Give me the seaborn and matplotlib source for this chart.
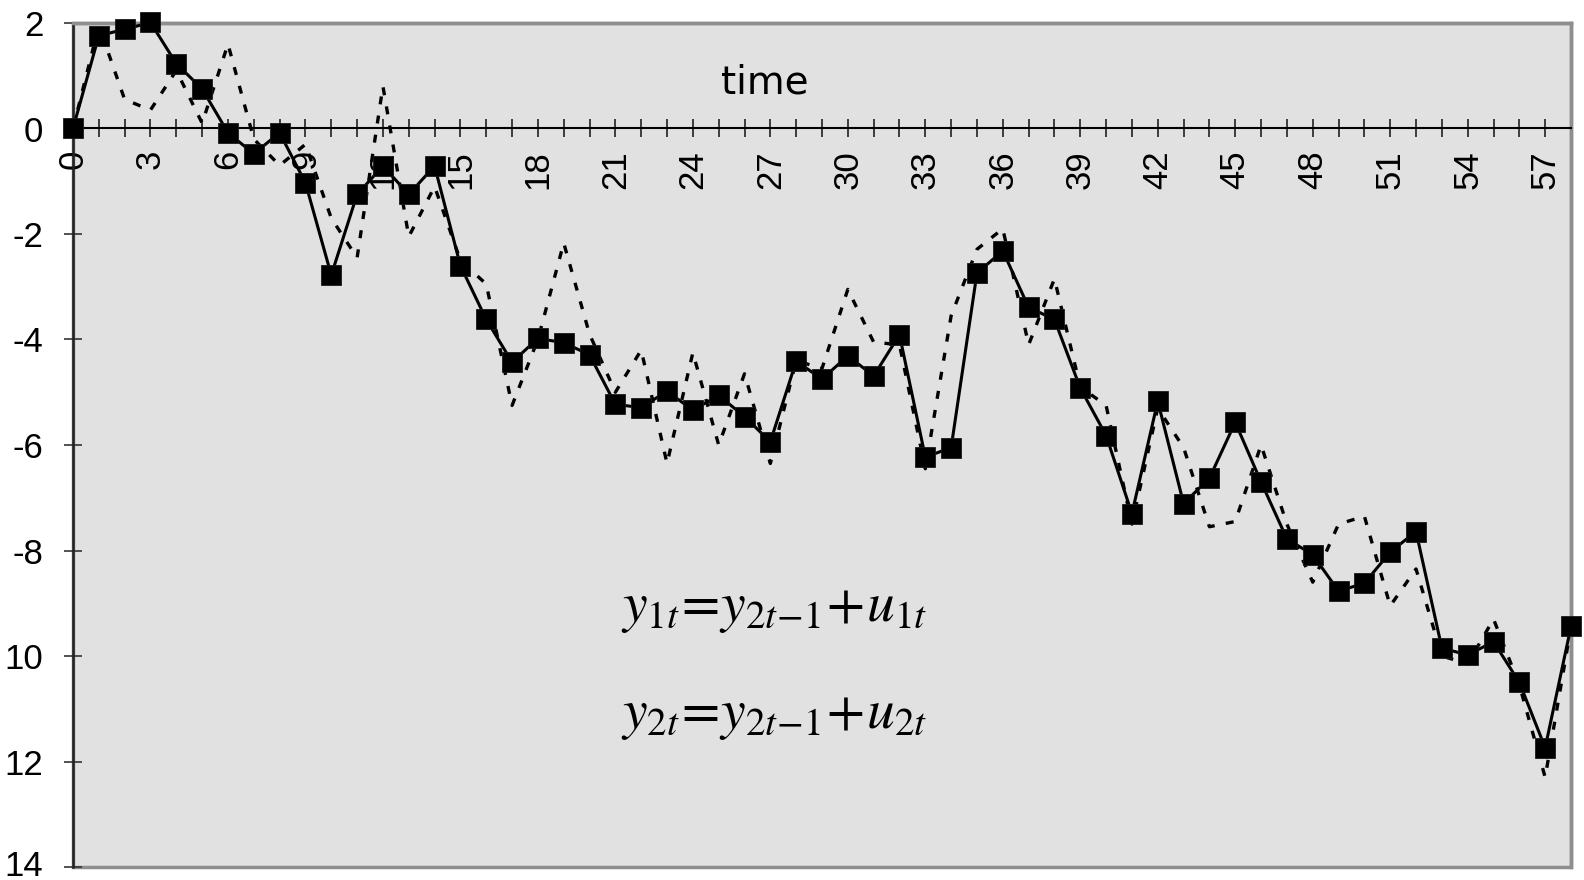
import numpy as np
import pandas as pd
import matplotlib
matplotlib.use("Agg")
import matplotlib.pyplot as plt
import matplotlib.transforms as mtransforms
import seaborn as sns
from matplotlib.ticker import MultipleLocator

# ---------------- data ----------------
time = list(range(59))
series_a = [0.00, 1.76, 1.88, 2.01, 1.23, 0.75, -0.08, -0.48, -0.08, -1.03,
            -2.78, -1.25, -0.71, -1.25, -0.71, -2.60, -3.62, -4.43, -3.98, -4.06,
            -4.29, -5.23, -5.29, -4.98, -5.34, -5.06, -5.46, -5.94, -4.41, -4.75,
            -4.31, -4.69, -3.91, -6.23, -6.05, -2.74, -2.32, -3.39, -3.62, -4.92,
            -5.82, -7.30, -5.17, -7.11, -6.63, -5.57, -6.70, -7.78, -8.08, -8.77,
            -8.62, -8.03, -7.64, -9.85, -9.98, -9.73, -10.50, -11.74, -9.44]
series_b = [0.00, 1.95, 0.55, 0.35, 1.10, 0.10, 1.60, -0.20, -0.70, -0.30,
            -1.70, -2.45, 0.80, -2.05, -1.10, -2.50, -2.95, -5.25, -4.00, -2.17,
            -3.90, -5.00, -4.20, -6.35, -4.25, -6.00, -4.65, -6.35, -4.40, -4.55,
            -3.05, -4.05, -4.10, -6.45, -3.55, -2.29, -1.90, -4.10, -2.85, -4.90,
            -5.25, -7.50, -5.30, -6.05, -7.55, -7.45, -6.00, -7.50, -8.60, -7.50,
            -7.35, -9.05, -8.35, -10.00, -10.15, -9.30, -10.55, -12.30, -9.45]
y_tick_values = [2, 0, -2, -4, -6, -8, -10, -12, -14]
y_tick_labels = ["2", "0", "-2", "-4", "-6", "-8", "10", "12", "14"]
x_label_text = "time"
eq1_text = r"$y_{1t}\!=\!y_{2t\!-\!1}\!+\!u_{1t}$"
eq2_text = r"$y_{2t}\!=\!y_{2t\!-\!1}\!+\!u_{2t}$"

df = pd.DataFrame({"time": time, "a": series_a, "b": series_b})

# ---------------- style ----------------
sns.set_theme(style="white")
plt.rcParams["font.family"] = ["Liberation Sans", "DejaVu Sans"]
plt.rcParams["mathtext.fontset"] = "stix"
plt.rcParams["text.color"] = "black"
plt.rcParams["xtick.color"] = "black"
plt.rcParams["ytick.color"] = "black"

W, H = 1584, 880
fig = plt.figure(figsize=(W / 100, H / 100), dpi=100)
ax = fig.add_axes([73 / W, 1 - 867 / H, (1571 - 73) / W, (867 - 23) / H])
ax.set_facecolor("#e1e1e1")
ax.patch.set_edgecolor("#8e8e8e")
ax.patch.set_linewidth(2.5)

sns.lineplot(data=df, x="time", y="b", ax=ax, color="black", lw=2.4,
             linestyle=(0, (2.4, 3.4)), zorder=3)
sns.lineplot(data=df, x="time", y="a", ax=ax, color="black", lw=2.2,
             marker="s", markersize=14.5, markeredgecolor="#1a1a1a",
             markeredgewidth=0.6, clip_on=False, zorder=4)

ax.set_xlim(0, 58)
ax.set_ylim(-14, 2)
ax.set_xlabel("")
ax.set_ylabel("")

# spines
ax.spines["bottom"].set_position(("data", 0))
ax.spines["bottom"].set_color("black")
ax.spines["bottom"].set_linewidth(1.5)
ax.spines["left"].set_color("#222222")
ax.spines["left"].set_linewidth(1.8)
for s in ("top", "right"):
    ax.spines[s].set_color("#8e8e8e")
    ax.spines[s].set_linewidth(2.5)

# ticks
ax.xaxis.set_major_locator(MultipleLocator(3))
ax.xaxis.set_minor_locator(MultipleLocator(1))
ax.tick_params(axis="x", which="both", direction="inout", length=13,
               width=1.2, color="#222222", bottom=True)
ax.tick_params(axis="x", which="major", labelsize=25, labelrotation=90,
               pad=9, labelcolor="black")
ax.set_yticks(y_tick_values, y_tick_labels)
ax.tick_params(axis="y", which="major", direction="inout", length=13,
               width=1.2, color="#333333", labelsize=25, pad=15, left=True,
               labelcolor="black")

# keep the lowest label inside the figure
fig.canvas.draw()
last = ax.get_yticklabels()[-1]
last.set_transform(last.get_transform() +
                   mtransforms.ScaledTranslation(0, 4 / 100, fig.dpi_scale_trans))

ax.text(26.8, 0.66, x_label_text, fontsize=28, family="DejaVu Sans",
        ha="center", va="baseline", color="black")
ax.text(21.2, -9.33, eq1_text, fontsize=40, ha="left", va="baseline")
ax.text(21.2, -11.37, eq2_text, fontsize=40, ha="left", va="baseline")

fig.savefig("out.png", dpi=100)
